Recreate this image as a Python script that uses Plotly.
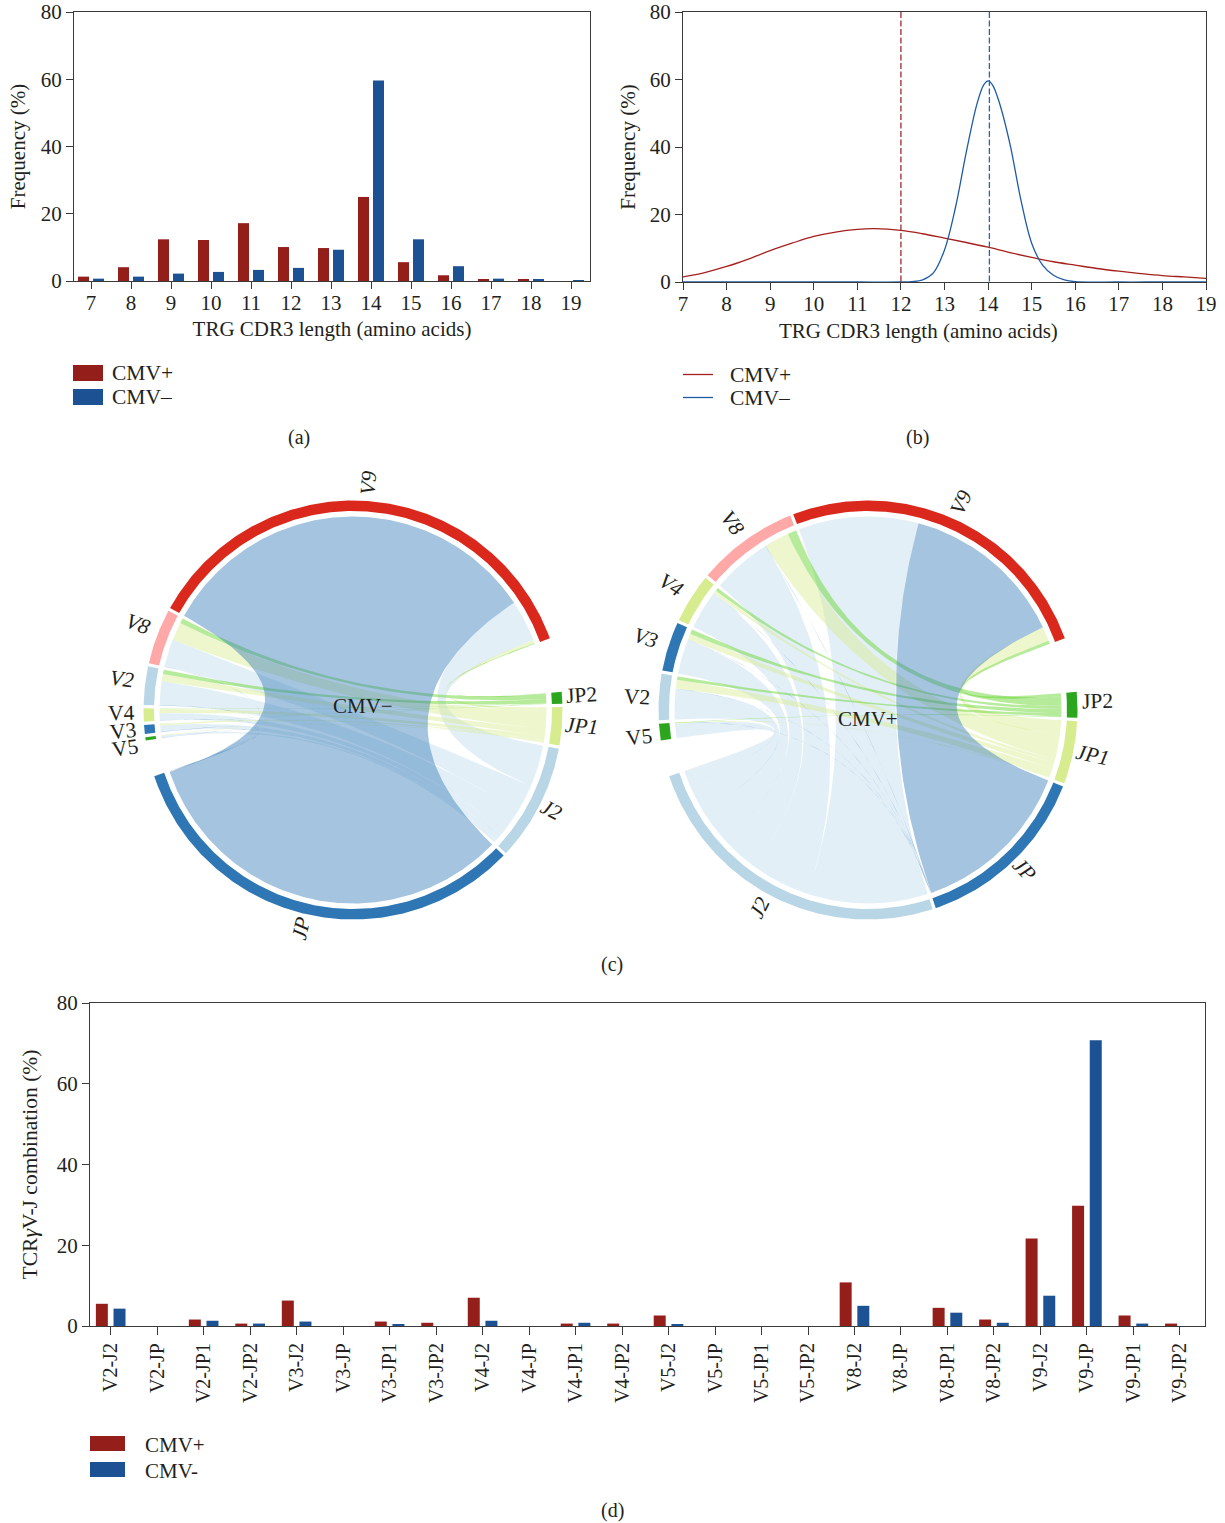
import numpy as np
import plotly.graph_objects as go

W, H = 1225, 1523
# ---------- data ----------
lengths = list(range(7, 20))
len_pos = [1.3, 4.1, 12.4, 12.2, 17.2, 10.1, 9.8, 25.0, 5.6, 1.7, 0.6, 0.3, 0.0]
len_neg = [0.7, 1.3, 2.2, 2.7, 3.3, 3.9, 9.3, 59.6, 12.4, 4.4, 0.7, 0.5, 0.2]

fit_pos_x = [7, 7.5, 8, 8.5, 9, 9.5, 10, 10.5, 11, 11.4, 12, 12.5, 13, 13.5, 14, 14.5, 15, 15.5, 16, 16.5, 17, 17.5, 18, 18.5, 19]
fit_pos_y = [1.5, 2.8, 4.6, 6.8, 9.3, 11.5, 13.5, 14.8, 15.6, 15.8, 15.3, 14.3, 13.0, 11.7, 10.3, 8.7, 7.3, 6.0, 5.0, 4.0, 3.2, 2.5, 1.9, 1.5, 1.1]
fit_neg_x = [7, 8, 9, 10, 11, 12, 12.25, 12.5, 12.75, 13, 13.25, 13.5, 13.75, 13.9, 14, 14.1, 14.25, 14.5, 14.75, 15, 15.25, 15.5, 15.75, 16, 17, 18, 19]
fit_neg_y = [0, 0, 0, 0, 0, 0, 0.1, 0.6, 2.8, 9.5, 22, 38.5, 53, 58.4, 59.6, 58.4, 53.5, 41, 24.5, 11.5, 5, 2, 0.6, 0.1, 0, 0, 0]
median_pos, median_neg = 12.0, 14.03

combos = ["V2-J2", "V2-JP", "V2-JP1", "V2-JP2", "V3-J2", "V3-JP", "V3-JP1", "V3-JP2",
          "V4-J2", "V4-JP", "V4-JP1", "V4-JP2", "V5-J2", "V5-JP", "V5-JP1", "V5-JP2",
          "V8-J2", "V8-JP", "V8-JP1", "V8-JP2", "V9-J2", "V9-JP", "V9-JP1", "V9-JP2"]
combo_pos = [5.5, 0, 1.6, 0.6, 6.3, 0, 1.1, 0.8, 7.0, 0, 0.6, 0.6, 2.6, 0, 0, 0, 10.8, 0, 4.5, 1.6, 21.7, 29.8, 2.6, 0.6]
combo_neg = [4.3, 0, 1.3, 0.6, 1.1, 0, 0.3, 0, 1.3, 0, 0.8, 0, 0.3, 0, 0, 0, 5.0, 0, 3.3, 0.8, 7.5, 70.8, 0.6, 0]

# chord link widths, columns J2, JP, JP1, JP2
neg_V2 = [4.3, 0.05, 1.3, 0.8]
neg_V3 = [1.1, 0.05, 0.3, 0.05]
neg_V4 = [1.3, 0.05, 0.8, 0.05]
neg_V5 = [0.4, 0.03, 0.1, 0.03]
neg_V8 = [5.0, 0.05, 3.3, 0.9]
neg_V9 = [7.5, 70.8, 0.6, 0.15]
pos_V2 = [5.5, 0.02, 1.6, 0.6]
pos_V3 = [6.3, 0.02, 1.1, 0.8]
pos_V4 = [7.0, 0.02, 0.6, 0.6]
pos_V5 = [2.6, 0.01, 0.1, 0.1]
pos_V8 = [10.8, 0.04, 4.5, 1.6]
pos_V9 = [21.7, 29.8, 2.6, 0.6]
j_columns = ["J2", "JP", "JP1", "JP2"]
neg_links = {"V2": neg_V2, "V3": neg_V3, "V4": neg_V4, "V5": neg_V5, "V8": neg_V8, "V9": neg_V9}
pos_links = {"V2": pos_V2, "V3": pos_V3, "V4": pos_V4, "V5": pos_V5, "V8": pos_V8, "V9": pos_V9}

# ---------- style ----------
RED, BLUE = "#941e1a", "#1c5193"
LRED, LBLUE = "#a5201c", "#1f5ba3"
INK = "#231f20"
AXIS = "#3a3a3a"
FONT = "Liberation Serif"
SECTOR = {"V9": "#da291c", "V8": "#ffa8a8", "V2": "#b9d6e7", "V4": "#d6ec8e", "V3": "#2e77b4", "V5": "#2da61f",
          "JP2": "#2da61f", "JP1": "#d6ec8e", "J2": "#b9d6e7", "JP": "#2e77b4"}
RIBBON = {"JP": "rgba(46,119,180,0.43)", "J2": "rgba(170,208,231,0.34)",
          "JP1": "rgba(214,236,142,0.45)", "JP2": "rgba(91,210,30,0.44)"}

fig = go.Figure()

def dom_x(a, b):
    return [a / W, b / W]

def dom_y(top, bottom):
    return [1 - bottom / H, 1 - top / H]

def px(x):
    return x / W

def py(y):
    return 1 - y / H

annots, shapes = [], []

def text(t, x, y, size=20, angle=0, anchor="center"):
    annots.append(dict(text=t, x=px(x), y=py(y), xref="paper", yref="paper", showarrow=False,
                       font=dict(family=FONT, size=size, color=INK), textangle=angle,
                       xanchor=anchor, yanchor="middle", borderpad=0))

def rect(x0, y0, x1, y1, color):
    shapes.append(dict(type="rect", xref="paper", yref="paper", x0=px(x0), x1=px(x1), y0=py(y0), y1=py(y1),
                       fillcolor=color, line=dict(width=0)))

def hline(x0, x1, y, color):
    shapes.append(dict(type="line", xref="paper", yref="paper", x0=px(x0), x1=px(x1), y0=py(y), y1=py(y),
                       line=dict(color=color, width=1.3)))

# ---------- (a) ----------
fig.add_trace(go.Bar(x=lengths, y=len_pos, name="CMV+", marker=dict(color=RED, line=dict(width=0)),
                     width=0.275, offset=-0.325, xaxis="x", yaxis="y", showlegend=False))
fig.add_trace(go.Bar(x=lengths, y=len_neg, name="CMV–", marker=dict(color=BLUE, line=dict(width=0)),
                     width=0.275, offset=0.05, xaxis="x", yaxis="y", showlegend=False))

# ---------- (b) ----------
fig.add_trace(go.Scatter(x=fit_pos_x, y=fit_pos_y, mode="lines", name="CMV+", showlegend=False,
                         line=dict(color=LRED, width=1.3, shape="spline", smoothing=1.0), xaxis="x2", yaxis="y2"))
fig.add_trace(go.Scatter(x=fit_neg_x, y=fit_neg_y, mode="lines", name="CMV–", showlegend=False, cliponaxis=False,
                         line=dict(color=LBLUE, width=1.3, shape="spline", smoothing=1.0), xaxis="x2", yaxis="y2"))
fig.add_trace(go.Scatter(x=[median_pos, median_pos], y=[80, 0], mode="lines", showlegend=False,
                         line=dict(color="#9c2a2a", width=1.3, dash="6px,2.5px"), xaxis="x2", yaxis="y2"))
fig.add_trace(go.Scatter(x=[median_neg, median_neg], y=[80, 0], mode="lines", showlegend=False,
                         line=dict(color="#2a62ac", width=1.3, dash="6px,2.5px"), xaxis="x2", yaxis="y2"))

# ---------- (c) chord diagrams ----------
R_OUT, R_IN, R_LINK = 209.5, 199.0, 193.5

def pt(cx, cy, r, deg):
    t = np.radians(deg)
    return cx + r * np.sin(t), cy - r * np.cos(t)

def arc(cx, cy, r, a0, a1):
    n = max(2, int(abs(a1 - a0) / 0.5) + 2)
    return pt(cx, cy, r, np.linspace(a0, a1, n))

def bez(cx, cy, r, a0, a1, n=70):
    x0, y0 = pt(cx, cy, r, a0)
    x1, y1 = pt(cx, cy, r, a1)
    u = np.linspace(0, 1, n)
    return ((1 - u) ** 2 * x0 + 2 * u * (1 - u) * cx + u ** 2 * x1,
            (1 - u) ** 2 * y0 + 2 * u * (1 - u) * cy + u ** 2 * y1)

def poly(xs, ys, color):
    fig.add_trace(go.Scatter(x=np.round(xs, 2).tolist(), y=np.round(ys, 2).tolist(), mode="lines", fill="toself",
                             fillcolor=color, line=dict(width=0), hoverinfo="skip", showlegend=False,
                             xaxis="x3", yaxis="y3"))

def chord(cx, cy, links, v_order, j_order, start, gap, gap_top, gap_low, label_r, italic, tweak):
    # v_order and j_order run clockwise; the circle reads j_order, low gap, v_order, top gap
    v_tot = {v: sum(links[v]) for v in v_order}
    j_tot = {j: sum(links[v][j_columns.index(j)] for v in v_order) for j in j_order}
    total = sum(v_tot.values()) + sum(j_tot.values())
    gaps = gap * (len(v_order) + len(j_order) - 2) + gap_top + gap_low
    s = (360 - gaps) / total
    span, a = {}, start
    for j in j_order:
        span[j] = (a, a + j_tot[j] * s)
        a = span[j][1] + gap
    a = a - gap + gap_low
    for v in v_order:
        span[v] = (a, a + v_tot[v] * s)
        a = span[v][1] + gap
    # links do not cross: J arcs take V's from the last one backwards, V arcs take J's reversed
    v_pos = {}
    for v in v_order:
        p = span[v][0]
        for j in reversed(j_order):
            w = links[v][j_columns.index(j)] * s
            v_pos[(v, j)] = (p, p + w)
            p += w
    j_pos = {}
    for j in j_order:
        p = span[j][0]
        for v in reversed(v_order):
            w = links[v][j_columns.index(j)] * s
            j_pos[(v, j)] = (p, p + w)
            p += w
    for j in ["J2", "JP1", "JP2", "JP"]:
        for v in v_order:
            if links[v][j_columns.index(j)] <= 0:
                continue
            a0, a1 = v_pos[(v, j)]
            b0, b1 = j_pos[(v, j)]
            p1, p2, p3, p4 = (arc(cx, cy, R_LINK, a0, a1), bez(cx, cy, R_LINK, a1, b0),
                              arc(cx, cy, R_LINK, b0, b1), bez(cx, cy, R_LINK, b1, a0))
            poly(np.concatenate([p1[0], p2[0], p3[0], p4[0]]), np.concatenate([p1[1], p2[1], p3[1], p4[1]]), RIBBON[j])
    for name, (a0, a1) in span.items():
        o = arc(cx, cy, R_OUT, a0, a1)
        i = arc(cx, cy, R_IN, a1, a0)
        poly(np.concatenate([o[0], i[0]]), np.concatenate([o[1], i[1]]), SECTOR[name])
        mid = (a0 + a1) / 2
        lx, ly = pt(cx, cy, label_r, mid)
        dx, dy = tweak.get(name, (0, 0))
        ang = mid - 90 if mid % 360 < 180 else mid - 270
        t = f"<i>{name}</i>" if name in italic else name
        annots.append(dict(text=t, x=float(lx + dx), y=float(ly + dy), xref="x3", yref="y3", showarrow=False,
                           font=dict(family=FONT, size=21.5, color=INK), textangle=float(ang),
                           xanchor="center", yanchor="middle"))

chord(353, 710, neg_links, ["V5", "V3", "V4", "V2", "V8", "V9"], ["JP2", "JP1", "J2", "JP"],
      85.0, 0.9, 15.0, 10.0, 228, {"V9", "V8", "V2", "JP", "J2", "JP1"},
      {"V9": (-3, 0), "J2": (-5, -3), "JP": (-1, -4), "JP2": (1, -2), "JP1": (1, -2), "V8": (-2, -6),
       "V2": (-5, -4), "V4": (-4, -2), "V3": (-3, -0.5), "V5": (-2, 7)})
chord(868, 710, pos_links, ["V5", "V2", "V3", "V4", "V8", "V9"], ["JP2", "JP1", "JP", "J2"],
      85.0, 0.9, 15.0, 10.0, 228, {"V9", "V8", "V4", "V3", "JP", "J2", "JP1"},
      {"V9": (-2, 0), "V8": (-2, -2), "V4": (-4, -3), "V3": (-5, -3), "V2": (-3, 1), "V5": (-2, 3),
       "JP2": (2, -3), "JP1": (1, -2), "JP": (-1, -5), "J2": (-6, -6)})

text("CMV−", 363, 706, size=21)
text("CMV+", 868, 719, size=21)

# ---------- (d) ----------
fig.add_trace(go.Bar(x=combos, y=combo_pos, name="CMV+", marker=dict(color=RED, line=dict(width=0)),
                     width=0.258, offset=-0.319, xaxis="x4", yaxis="y4", showlegend=False))
fig.add_trace(go.Bar(x=combos, y=combo_neg, name="CMV-", marker=dict(color=BLUE, line=dict(width=0)),
                     width=0.258, offset=0.061, xaxis="x4", yaxis="y4", showlegend=False))

# ---------- legends, captions ----------
rect(73, 365, 103, 381, RED)
rect(73, 389, 103, 405, BLUE)
text("CMV+", 111, 373, size=21.5, anchor="left")
text("CMV–", 111, 397, size=21.5, anchor="left")
hline(683, 713, 374.5, LRED)
hline(683, 713, 397.5, LBLUE)
text("CMV+", 729, 375, size=21.5, anchor="left")
text("CMV–", 729, 398, size=21.5, anchor="left")
rect(90, 1436, 125, 1451, RED)
rect(90, 1462, 125, 1477, BLUE)
text("CMV+", 144, 1445, size=21, anchor="left")
text("CMV-", 144, 1471, size=21, anchor="left")
text("TRG CDR3 length (amino acids)", 918, 331, size=21)
text("(a)", 299, 437)
text("(b)", 917, 437)
text("(c)", 612, 965)
text("(d)", 612, 1510)

def axis(domain, **kw):
    base = dict(domain=domain, showgrid=False, zeroline=False, showline=True, mirror=True, linecolor=AXIS, linewidth=1.2,
                ticks="outside", tickcolor=AXIS, tickwidth=1.2, ticklen=7, automargin=False,
                tickfont=dict(family=FONT, size=21, color=INK), fixedrange=True)
    base.update(kw)
    return base

title_font = dict(family=FONT, size=21, color=INK)
fig.update_layout(
    width=W, height=H, autosize=False, margin=dict(l=0, r=0, t=0, b=0, autoexpand=False),
    paper_bgcolor="white", plot_bgcolor="white", barmode="overlay", showlegend=False,
    font=dict(family=FONT, color=INK),
    xaxis=axis(dom_x(74, 590), anchor="y", range=[6.575, 19.475], tickvals=lengths, ticklabelstandoff=-4,
               title=dict(text="TRG CDR3 length (amino acids)", font=title_font, standoff=7)),
    yaxis=axis(dom_y(12, 281), anchor="x", range=[0, 80], tickvals=[0, 20, 40, 60, 80],
               title=dict(text="Frequency (%)", font=title_font, standoff=9)),
    xaxis2=axis(dom_x(683, 1206), anchor="y2", range=[7, 19], tickvals=lengths, ticklabelstandoff=-4,
                ticklabelposition="outside", ticklabeloverflow="allow"),
    yaxis2=axis(dom_y(12, 282), anchor="x2", range=[0, 80], tickvals=[0, 20, 40, 60, 80],
                title=dict(text="Frequency (%)", font=title_font, standoff=8)),
    xaxis3=dict(domain=[0, 1], anchor="y3", range=[0, W], visible=False, fixedrange=True, automargin=False),
    yaxis3=dict(domain=dom_y(445, 955), anchor="x3", range=[955, 445], visible=False, fixedrange=True, automargin=False),
    xaxis4=axis(dom_x(90, 1205), anchor="y4", type="category", categoryorder="array", categoryarray=combos,
                range=[-0.445, 23.54], tickangle=-90, ticklen=8, tickfont=dict(family=FONT, size=20, color=INK)),
    yaxis4=axis(dom_y(1003, 1326), anchor="x4", range=[0, 80], tickvals=[0, 20, 40, 60, 80],
                title=dict(text="TCR<i>γ</i>V-J combination (%)", font=dict(family=FONT, size=21.5, color=INK), standoff=13)),
    annotations=annots, shapes=shapes,
)
fig.write_html("out.html", config=dict(displayModeBar=False),
               post_script="document.body.style.margin='0';")
